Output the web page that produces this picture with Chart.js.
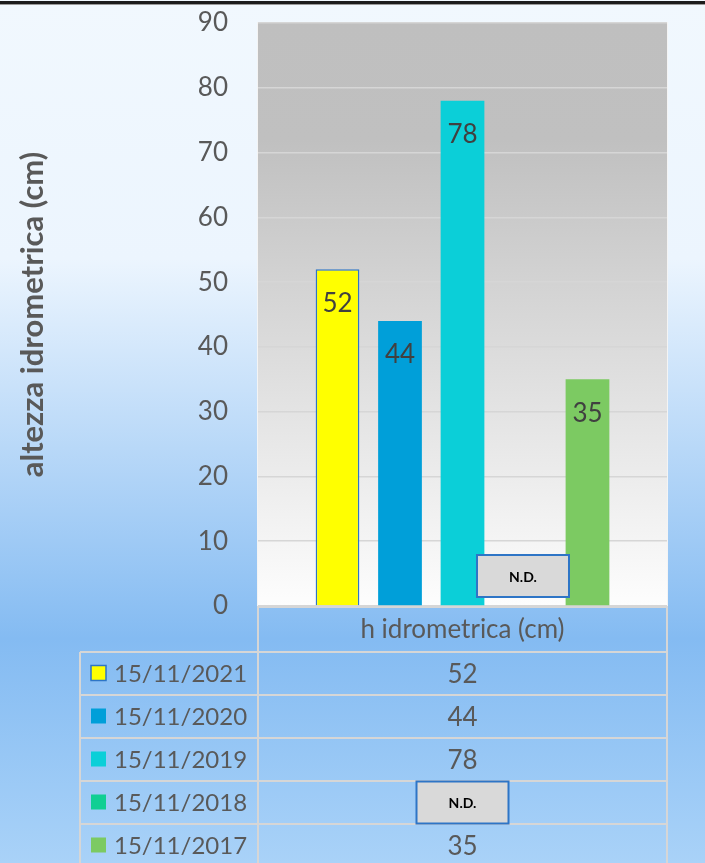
<!DOCTYPE html>
<html>
<head>
<meta charset="utf-8">
<script src="https://cdn.jsdelivr.net/npm/chart.js@4.4.1/dist/chart.umd.min.js"></script>
<style>
  body { margin: 0; background: #fff; }
  canvas { display: block; }
</style>
</head>
<body>
<canvas id="myChart" width="705" height="863"></canvas>
<script>
// data
const categories = ["h idrometrica (cm)"];
const dates = ["15/11/2021", "15/11/2020", "15/11/2019", "15/11/2018", "15/11/2017"];
const values = [52, 44, 78, null, 35];
const barColors = ["#ffff00", "#009fd9", "#0bcfd8", "#10cf93", "#7cca62"];
const yTicks = [0, 10, 20, 30, 40, 50, 60, 70, 80, 90];

const FONT = "Lato, 'Open Sans', sans-serif";
const TEXT = "#595959";
const LINE = "#d6d6d6";
const rowH = 43;

// sfondo pagina + area grafico
const bgPlugin = {
  id: "bg",
  beforeDraw(chart) {
    const ctx = chart.ctx;
    const W = chart.width, H = chart.height;
    let g = ctx.createLinearGradient(0, 0, 0, H);
    g.addColorStop(0, "#f1f8fe");
    g.addColorStop(0.3, "#ecf5fe");
    g.addColorStop(0.74, "#84bbf2");
    g.addColorStop(1, "#a9d2f8");
    ctx.fillStyle = g;
    ctx.fillRect(0, 0, W, H);

    const a = chart.chartArea;
    g = ctx.createLinearGradient(0, a.top, 0, a.bottom);
    g.addColorStop(0, "#bfbfbf");
    g.addColorStop(0.2, "#c0c0c0");
    g.addColorStop(1, "#fdfdfd");
    ctx.fillStyle = g;
    ctx.fillRect(a.left, a.top, a.right - a.left, a.bottom - a.top);
    ctx.strokeStyle = "#f4f4f4";
    ctx.lineWidth = 1;
    ctx.strokeRect(a.left - 0.5, a.top - 0.5, a.right - a.left + 1, a.bottom - a.top + 1);

    // linea in alto
    ctx.fillStyle = "#1c1c1c";
    ctx.fillRect(0, 1, W, 3);
    ctx.fillStyle = "#9a9a9a";
    ctx.fillRect(0, 4, W, 1);
  }
};

function ndBox(ctx, cx, cy) {
  ctx.save();
  ctx.fillStyle = "#d9d9d9";
  ctx.fillRect(cx - 46, cy - 21, 92, 42);
  ctx.strokeStyle = "#2e75c6";
  ctx.lineWidth = 2;
  ctx.strokeRect(cx - 46, cy - 21, 92, 42);
  ctx.fillStyle = "#000";
  ctx.font = "bold 14px " + FONT;
  ctx.textAlign = "center";
  ctx.textBaseline = "middle";
  ctx.fillText("N.D.", cx, cy + 1);
  ctx.restore();
}

// etichette + tabella dati
const tablePlugin = {
  id: "table",
  afterDatasetsDraw(chart) {
    const ctx = chart.ctx;
    const a = chart.chartArea;
    ctx.save();
    ctx.font = "26px " + FONT;
    ctx.textAlign = "center";
    ctx.textBaseline = "middle";
    chart.data.datasets.forEach((ds, i) => {
      const bar = chart.getDatasetMeta(i).data[0];
      if (ds.data[0] === null) {
        ndBox(ctx, bar.x - 2, a.bottom - 30);
      } else {
        ctx.fillStyle = "#404040";
        ctx.fillText(ds.data[0], bar.x, bar.y + 34);
      }
    });

    // tabella
    const left = 80, mid = a.left, right = a.right;
    const top = a.bottom, head = top + 46;
    ctx.strokeStyle = LINE;
    ctx.lineWidth = 2;
    ctx.beginPath();
    ctx.moveTo(mid, top); ctx.lineTo(mid, chart.height + 5);
    ctx.moveTo(right, top); ctx.lineTo(right, chart.height + 5);
    ctx.moveTo(left, head); ctx.lineTo(left, chart.height + 5);
    ctx.moveTo(mid, top + 1); ctx.lineTo(right, top + 1);
    for (let r = 0; r <= dates.length; r++) {
      ctx.moveTo(left, head + r * rowH);
      ctx.lineTo(right, head + r * rowH);
    }
    ctx.stroke();

    ctx.fillStyle = TEXT;
    ctx.fillText(categories[0], (mid + right) / 2, top + 24);
    dates.forEach((d, r) => {
      const cy = head + r * rowH + rowH / 2;
      ctx.fillStyle = barColors[r];
      ctx.fillRect(91, cy - 8, 15, 15);
      if (r === 0) {
        ctx.strokeStyle = "#2e75c6";
        ctx.lineWidth = 1.5;
        ctx.strokeRect(91, cy - 8, 15, 15);
      }
      ctx.fillStyle = TEXT;
      ctx.textAlign = "left";
      ctx.font = "24px " + FONT;
      ctx.fillText(d, 114, cy + 1);
      ctx.textAlign = "center";
      ctx.font = "26px " + FONT;
      if (values[r] === null) {
        ndBox(ctx, (mid + right) / 2, cy);
      } else {
        ctx.fillText(values[r], (mid + right) / 2, cy + 1);
      }
    });
    ctx.restore();
  }
};

const datasets = dates.map((d, i) => ({
  label: d,
  data: [values[i]],
  backgroundColor: barColors[i],
  borderColor: i === 0 ? "#2e75c6" : barColors[i],
  borderWidth: i === 0 ? 1.5 : 0,
  categoryPercentage: 0.764,
  barPercentage: 0.7
}));

const ctx = document.getElementById("myChart").getContext("2d");
const myChart = new Chart(ctx, {
  type: "bar",
  data: { labels: categories, datasets: datasets },
  plugins: [bgPlugin, tablePlugin],
  options: {
    responsive: false,
    animation: false,
    layout: { padding: { top: 23, right: 38, bottom: 257, left: 0 } },
    plugins: { legend: { display: false }, tooltip: { enabled: false } },
    scales: {
      x: { display: false },
      y: {
        min: 0,
        max: 90,
        afterFit(scale) { scale.width = 258; },
        afterBuildTicks(scale) { scale.ticks = yTicks.map(v => ({ value: v })); },
        border: { display: false },
        grid: { color: LINE, lineWidth: 1.5, drawTicks: true, tickLength: 30, tickColor: "rgba(0,0,0,0)" },
        ticks: { padding: 0, color: TEXT, font: { family: FONT, size: 26 } },
        title: {
          display: true,
          text: "altezza idrometrica (cm)",
          color: TEXT,
          font: { family: FONT, size: 31, weight: "bold" },
          padding: { top: 14 }
        }
      }
    }
  }
});
</script>
</body>
</html>
